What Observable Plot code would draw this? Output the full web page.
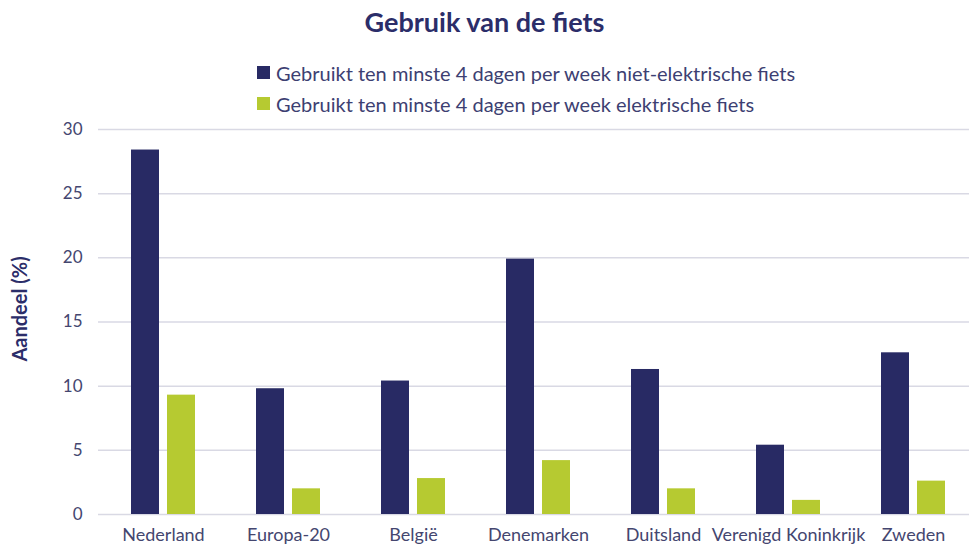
<!DOCTYPE html>
<html><head><meta charset="utf-8">
<script src="https://cdn.jsdelivr.net/npm/d3@7"></script>
<script src="https://cdn.jsdelivr.net/npm/@observablehq/plot@0.6"></script>
<style>
body{margin:0;background:#fff;font-family:Lato,sans-serif;}
#wrap{position:relative;width:969px;height:546px;overflow:hidden;}
#chart{position:absolute;top:0;left:0;}
#title{position:absolute;top:5px;left:0;width:969px;text-align:center;font-size:27px;font-weight:bold;color:#2b2d69;}
#legend{position:absolute;left:257px;top:57px;font-size:20px;color:#3d3f72;}
.row{display:flex;align-items:center;height:31px;}
.sw{width:13px;height:13px;margin-right:6px;flex:none;}
</style></head>
<body>
<div id="wrap">
  <div id="chart"></div>
  <div id="title">Gebruik van de fiets</div>
  <div id="legend"></div>
</div>
<script>
const countries = ["Nederland", "Europa-20", "België", "Denemarken", "Duitsland", "Verenigd Koninkrijk", "Zweden"];
const nietElektrisch = [28.4, 9.8, 10.4, 19.9, 11.3, 5.4, 12.6];
const elektrisch = [9.3, 2.0, 2.8, 4.2, 2.0, 1.1, 2.6];
const seriesNames = [
  "Gebruikt ten minste 4 dagen per week niet-elektrische fiets",
  "Gebruikt ten minste 4 dagen per week elektrische fiets"
];
const seriesColors = ["#282a64", "#b6ca31"];
const yTicks = [0, 5, 10, 15, 20, 25, 30];
const yLabel = "Aandeel (%)";

const data = countries.map((c, i) => ({country: c, niet: nietElektrisch[i], elek: elektrisch[i]}));

const legend = document.getElementById("legend");
seriesNames.forEach((n, i) => {
  const row = document.createElement("div");
  row.className = "row";
  const sw = document.createElement("span");
  sw.className = "sw";
  sw.style.background = seriesColors[i];
  const t = document.createElement("span");
  t.textContent = n;
  row.appendChild(sw); row.appendChild(t);
  legend.appendChild(row);
});

const chart = Plot.plot({
  width: 969,
  height: 546,
  marginTop: 129,
  marginBottom: 32,
  marginLeft: 98,
  marginRight: 0,
  x: {domain: countries, range: [98, 978], paddingInner: 0.49, paddingOuter: 0.2455, axis: null},
  y: {domain: [0, 30], axis: null},
  style: {fontFamily: "Lato, sans-serif", fontSize: "17px", color: "#44466f", background: "white"},
  marks: [
    Plot.ruleY(yTicks, {stroke: "#d9d9e4", strokeWidth: 1.5}),
    Plot.barY(data, {x: "country", y: "niet", fill: seriesColors[0], insetRight: 36}),
    Plot.barY(data, {x: "country", y: "elek", fill: seriesColors[1], insetLeft: 36}),
    Plot.axisY({ticks: yTicks, tickSize: 0, tickPadding: 16, label: null}),
    Plot.axisX({tickSize: 0, tickPadding: 14, fontSize: 18, label: null}),
    Plot.text([yLabel], {frameAnchor: "left", textAnchor: "middle", dx: -78, dy: -13, rotate: -90, fontWeight: "bold", fontSize: 20, fill: "#2b2d69"})
  ]
});
document.getElementById("chart").appendChild(chart);
</script>
</body></html>
